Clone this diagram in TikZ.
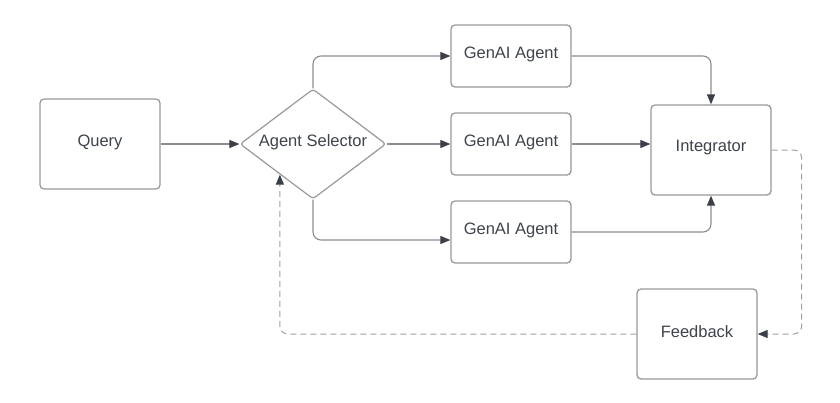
\documentclass[tikz,border=0pt]{standalone}
\usepackage{fontspec}
\setmainfont{Liberation Sans}
\usetikzlibrary{shapes.geometric,arrows.meta,calc}
\definecolor{boxc}{HTML}{999999}
\definecolor{linec}{HTML}{8C8C8C}
\definecolor{dashc}{HTML}{A0A0A0}
\definecolor{tipc}{HTML}{3A3F48}
\definecolor{textc}{HTML}{3E444C}
\tikzset{
  x=1pt, y=-1pt,
  box/.style={draw=boxc, line width=1.3pt, rounded corners=4pt, fill=white,
    text=textc, font=\fontsize{16.5}{20}\selectfont, inner sep=0pt},
  conn/.style={draw=linec, line width=1.1pt, rounded corners=8pt,
    -{Triangle[length=10pt,width=8pt,color=tipc]}},
  dconn/.style={draw=dashc, line width=1pt, rounded corners=8pt,
    dash pattern=on 6pt off 4pt,
    -{Triangle[length=10pt,width=8pt,color=tipc]}},
  lbl/.style={text=textc, font=\fontsize{16.5}{20}\selectfont, inner sep=0pt}
}
\begin{document}
\begin{tikzpicture}
\useasboundingbox (0,0) rectangle (840,402);
\node[box, minimum width=120pt, minimum height=90pt] (q) at (100,144) {};
\node[lbl] (qt) at (100,142) {Query};
\node[diamond, draw=boxc, line width=1.2pt, rounded corners=3pt, inner sep=0pt,
      minimum width=146pt, minimum height=110pt, fill=white] (sel) at (313,144) {};
\node[lbl] (selt) at (313,142) {Agent Selector};
\node[box, minimum width=120pt, minimum height=62pt] (a1) at (511,56) {};
\node[lbl] (a1t) at (511,54) {GenAI Agent};
\node[box, minimum width=120pt, minimum height=62pt] (a2) at (511,144) {};
\node[lbl] (a2t) at (511,142) {GenAI Agent};
\node[box, minimum width=120pt, minimum height=62pt] (a3) at (511,232) {};
\node[lbl] (a3t) at (511,230) {GenAI Agent};
\node[box, minimum width=120pt, minimum height=90pt] (int) at (711,150) {};
\node[lbl] (intt) at (711,148) {Integrator};
\node[box, minimum width=120pt, minimum height=90pt] (fb) at (697,334) {};
\node[lbl] (fbt) at (697,332) {Feedback};
\coordinate (fbin) at ($(sel.south west)!0.1!(sel.south)$);
\coordinate (a3in) at ($(a3.west)+(0,8)$);
\coordinate (intr) at ($(int.east)+(30,0)$);

\draw[conn] (q.east) -- (sel.west);
\draw[conn] (sel.north) |- (a1.west);
\draw[conn] (sel.east) -- (a2.west);
\draw[conn] (sel.south) |- (a3in);
\draw[conn] (a1.east) -| (int.north);
\draw[conn] (a2.east) -- (a2.east -| int.west);
\draw[conn] (a3.east) -| (int.south);
\draw[dconn] (int.east) -- (intr) |- (fb.east);
\draw[dconn] (fb.west) -| (fbin);
\end{tikzpicture}
\end{document}
